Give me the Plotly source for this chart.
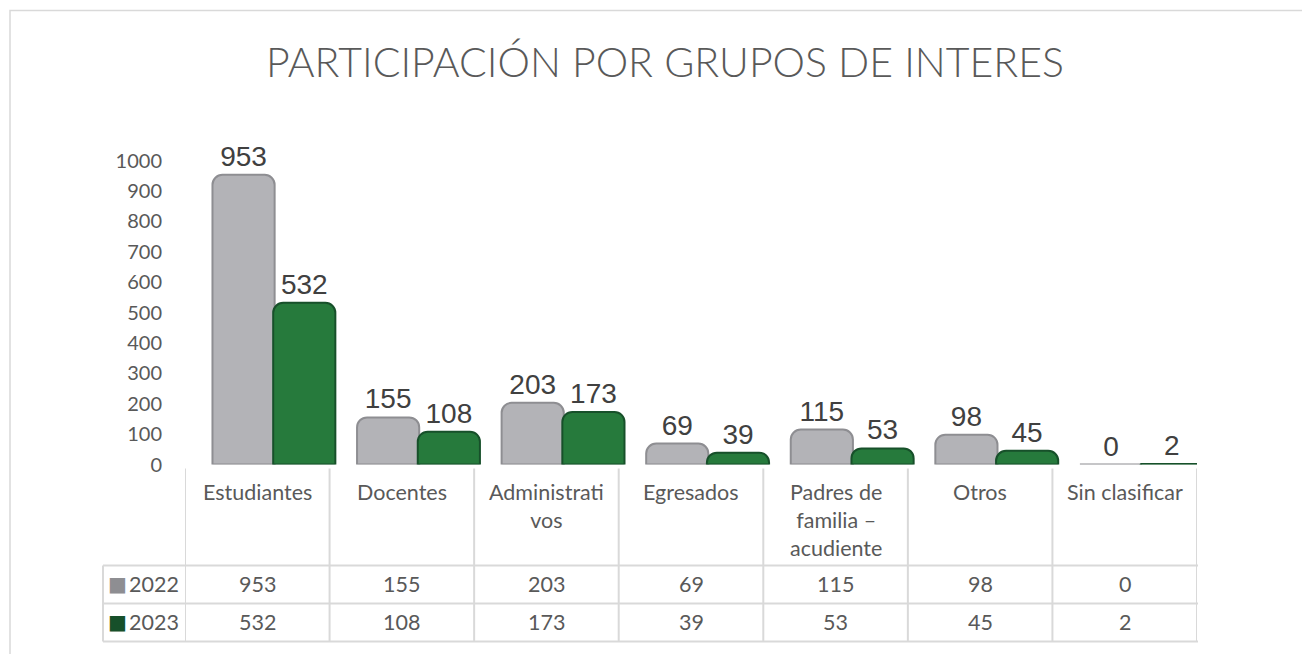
import plotly.graph_objects as go

# ---- data ----
categories = ["Estudiantes", "Docentes", "Administrativos", "Egresados",
              "Padres de familia – acudiente", "Otros", "Sin clasificar"]
header_labels = ["Estudiantes", "Docentes", "Administrati<br>vos", "Egresados",
                 "Padres de<br>familia –<br>acudiente", "Otros", "Sin clasificar"]
series_names = ["2022", "2023"]
values_2022 = [953, 155, 203, 69, 115, 98, 0]
values_2023 = [532, 108, 173, 39, 53, 45, 2]
y_ticks = [0, 100, 200, 300, 400, 500, 600, 700, 800, 900, 1000]
title_text = "PARTICIPACIÓN POR GRUPOS DE INTERES"

# ---- layout helpers (target pixel -> paper) ----
W, H = 1310, 654
XOFF = 8.0
YSCALE, YOFF = 0.9635, 20.4

def px(x):
    return (x - XOFF) / W

def py(y):
    ys = (y - YOFF) / YSCALE
    return (H - ys) / H

GRAY = "#b3b3b7"
GRAY_DARK = "#8e8e92"
GREEN = "#267a3c"
GREEN_DARK = "#17502a"
TXT = "#595959"
LINE = "#d9d9d9"
BODY_FONT = "Lato"

BAR_W = 0.43
fig = go.Figure()
fig.add_trace(go.Bar(
    name=series_names[0], x=categories, y=values_2022,
    width=BAR_W, offset=-0.31,
    marker=dict(color=GRAY, line=dict(color=GRAY_DARK, width=2)),
    text=[str(v) for v in values_2022], textposition="outside",
    textfont=dict(family="Liberation Sans", size=28, color="#404040"),
    cliponaxis=False,
))
fig.add_trace(go.Bar(
    name=series_names[1], x=categories, y=values_2023,
    width=BAR_W, offset=0.11,
    marker=dict(color=GREEN, line=dict(color=GREEN_DARK, width=2)),
    text=[str(v) for v in values_2023], textposition="outside",
    textfont=dict(family="Liberation Sans", size=28, color="#404040"),
    cliponaxis=False,
))

shapes = []
annotations = []

# outer frame
shapes.append(dict(type="rect", xref="paper", yref="paper",
                   x0=px(10), x1=px(1340), y0=-0.2, y1=py(10),
                   line=dict(color=LINE, width=1.5), layer="below"))

# table geometry (target pixels)
y_head_top, y_row1, y_row2, y_bottom = 468, 565, 603, 641
x_leg_left = 103

n = len(categories)
for i in range(n + 1):
    shapes.append(dict(type="line", xref="x", yref="paper",
                       x0=i - 0.5, x1=i - 0.5, y0=py(y_head_top), y1=py(y_bottom),
                       line=dict(color=LINE, width=2)))
shapes.append(dict(type="line", xref="paper", yref="paper",
                   x0=px(x_leg_left), x1=px(x_leg_left), y0=py(y_row1), y1=py(y_bottom),
                   line=dict(color=LINE, width=2)))
for yy in (y_row1, y_row2, y_bottom):
    shapes.append(dict(type="line", xref="paper", yref="paper",
                       x0=px(x_leg_left), x1=px(1198), y0=py(yy), y1=py(yy),
                       line=dict(color=LINE, width=2)))

FS = 21.5
for cat, lab in zip(categories, header_labels):
    annotations.append(dict(xref="x", yref="paper", x=cat, y=py(476),
                            yanchor="top", text=lab, showarrow=False,
                            font=dict(family=BODY_FONT, size=FS, color=TXT),
                            align="center"))
for vals, yc in ((values_2022, (y_row1 + y_row2) / 2), (values_2023, (y_row2 + y_bottom) / 2)):
    for cat, v in zip(categories, vals):
        annotations.append(dict(xref="x", yref="paper", x=cat, y=py(yc),
                                yanchor="middle", text=str(v), showarrow=False,
                                font=dict(family=BODY_FONT, size=FS, color=TXT)))
for name, col, yc in ((series_names[0], GRAY_DARK, (y_row1 + y_row2) / 2),
                      (series_names[1], GREEN_DARK, (y_row2 + y_bottom) / 2)):
    annotations.append(dict(xref="paper", yref="paper", x=px(106), y=py(yc),
                            xanchor="left", yanchor="middle", showarrow=False,
                            text="■", font=dict(family="DejaVu Sans", size=20, color=col)))
    annotations.append(dict(xref="paper", yref="paper", x=px(127), y=py(yc),
                            xanchor="left", yanchor="middle", showarrow=False,
                            text=name, font=dict(family=BODY_FONT, size=FS, color=TXT)))

fig.update_layout(
    width=W, height=H,
    margin=dict(l=0, r=0, t=0, b=0),
    paper_bgcolor="white", plot_bgcolor="white",
    title=dict(text=title_text, x=px(665), xanchor="center",
               y=(H - (63 - XOFF)) / H, yanchor="middle",
               font=dict(family=BODY_FONT, size=41, color=TXT, weight=300)),
    showlegend=False,
    barmode="overlay",
    barcornerradius=10,
    xaxis=dict(domain=[px(185), px(1197)], range=[-0.5, n - 0.5],
               showticklabels=False, showgrid=False, zeroline=False,
               showline=False, ticks=""),
    yaxis=dict(domain=[py(464), py(160)], range=[0, 1000],
               tickvals=y_ticks, showgrid=False, zeroline=False, showline=False,
               ticks="", ticklabelstandoff=22,
               tickfont=dict(family=BODY_FONT, size=20, color=TXT)),
    shapes=shapes, annotations=annotations,
)
fig.update_traces(hoverinfo="skip")

fig.write_html("out.html")
